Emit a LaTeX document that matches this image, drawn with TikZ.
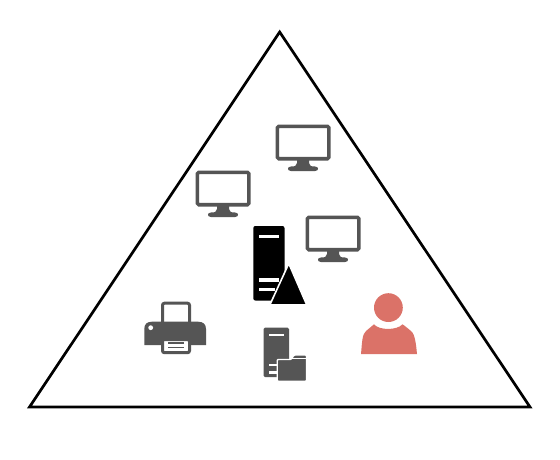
\documentclass[tikz,border=0pt]{standalone}
\definecolor{icongray}{HTML}{555555}
\definecolor{personred}{HTML}{DB7268}
\tikzset{
  x=1pt,y=-1pt,
  frameline/.style={draw=black,line width=2.7pt,line join=miter},
  monitor/.pic={
    \draw[icongray,line width=3.6pt,rounded corners=1.5pt,fill=white] (1.3,1.3) rectangle (52.9,33.7);
    \fill[icongray] (21,35) -- (33,35) -- (33,38) .. controls (33.5,41) and (35,41.5) .. (39,41.5)
      .. controls (43,41.5) and (43,46) .. (39,46) -- (15,46)
      .. controls (11,46) and (11,41.5) .. (15,41.5) .. controls (19,41.5) and (20.5,41) .. (21,38) -- cycle;
  }
}
\begin{document}
\begin{tikzpicture}
\useasboundingbox (0,0) rectangle (560,459);
\fill[white] (0,0) rectangle (560,459);
% frame
\draw[frameline] (279.7,32) -- (530,407) -- (29.5,407) -- cycle;
% monitors
\pic at (276,125) {monitor};
\pic at (196,171) {monitor};
\pic at (306,216) {monitor};
% black server with triangle
\fill[black,rounded corners=2pt] (253.3,226) rectangle (284.5,300.5);
\fill[white] (259,235) rectangle (279,238);
\fill[white] (259,278.3) rectangle (279,281.5);
\fill[white] (259,288) rectangle (275,291);
\fill[black,draw=white,line width=1.6pt,line join=round] (288.8,263.5) -- (306.8,305) -- (269.8,305) -- cycle;
% printer
\draw[icongray,line width=3pt,rounded corners=2pt,fill=white] (162.5,303.2) rectangle (189.5,326);
\fill[icongray] (144.3,345) -- (144.3,329) .. controls (144.3,324) and (147,321.7) .. (152,321.7)
  -- (198,321.7) .. controls (203,321.7) and (206,324) .. (206,329) -- (206,345) -- cycle;
\fill[white] (150.7,327.7) circle (2.4);
\draw[icongray,line width=3pt,rounded corners=2pt,fill=white] (162.5,339.5) rectangle (189.5,352.7);
\fill[icongray] (168.3,342.2) rectangle (183.5,343.6);
\fill[icongray] (168.3,346.6) rectangle (183.5,348);
% file server
\fill[icongray,rounded corners=1.5pt] (263.5,327.7) rectangle (289,377);
\fill[white] (268.5,334) rectangle (284,336.4);
\fill[white] (268.5,363.5) rectangle (284,366);
\fill[white] (268.5,371) rectangle (284,373.5);
\fill[icongray,draw=white,line width=1.4pt,rounded corners=1pt]
  (277.2,359.5) -- (291,359.5) -- (294,355) -- (306.6,355) -- (306.6,381.2) -- (277.2,381.2) -- cycle;
\draw[white,line width=1pt] (291,358) -- (306.6,358);
% person
\fill[personred] (388.4,307.6) circle (14.4);
\fill[personred] (361,354) .. controls (362,344) and (362,334) .. (366,331)
  .. controls (369,328.5) and (372,326) .. (374,324.3)
  .. controls (379,330.5) and (397,330.5) .. (402.5,324.3)
  .. controls (405,326) and (408,328.5) .. (411,331)
  .. controls (415,334) and (416,344) .. (417,354) -- cycle;
\end{tikzpicture}
\end{document}
